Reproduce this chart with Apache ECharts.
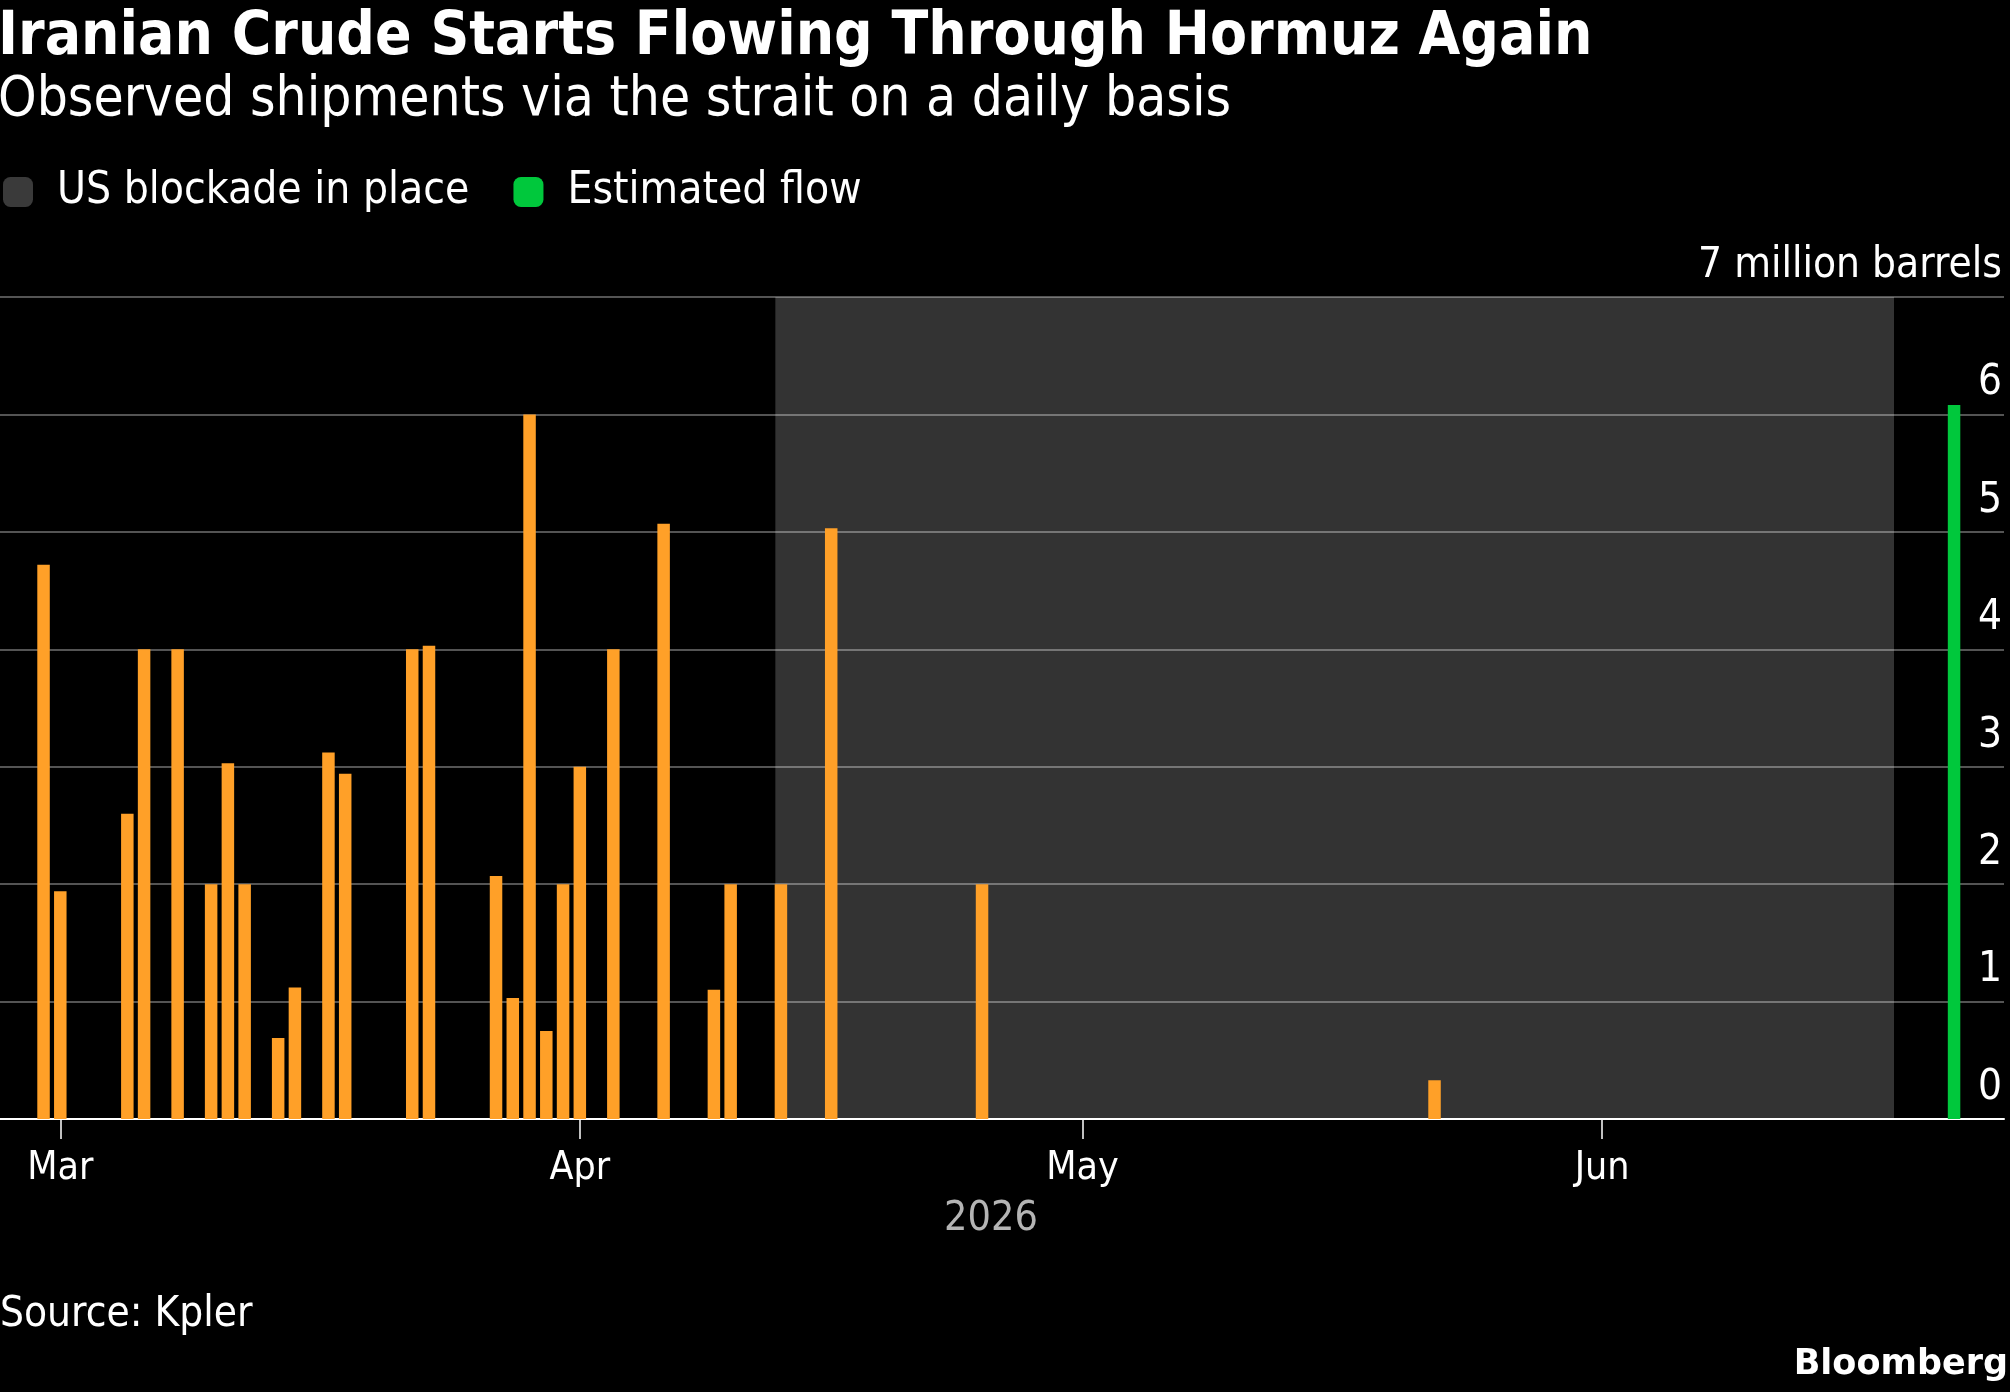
<!DOCTYPE html>
<html>
<head>
<meta charset="utf-8">
<script src="https://cdn.jsdelivr.net/npm/echarts@6/dist/echarts.min.js"></script>
<style>
  html, body { margin: 0; padding: 0; background: #000; }
  #main { width: 2010px; height: 1392px; }
</style>
</head>
<body>
<div id="main"></div>
<script>
// observed daily shipments via the strait (million barrels)
const shipDates = [
  '2026-02-28', '2026-03-01', '2026-03-05', '2026-03-06', '2026-03-08',
  '2026-03-10', '2026-03-11', '2026-03-12', '2026-03-14', '2026-03-15',
  '2026-03-17', '2026-03-18', '2026-03-22', '2026-03-23', '2026-03-27',
  '2026-03-28', '2026-03-29', '2026-03-30', '2026-03-31', '2026-04-01',
  '2026-04-03', '2026-04-06', '2026-04-09', '2026-04-10', '2026-04-13',
  '2026-04-16', '2026-04-25', '2026-05-22'
];
const shipValues = [
  4.72, 1.94, 2.6, 4.0, 4.0,
  2.0, 3.03, 2.0, 0.69, 1.12,
  3.12, 2.94, 4.0, 4.03, 2.07,
  1.03, 6.0, 0.75, 2.0, 3.0,
  4.0, 5.07, 1.1, 2.0, 2.0,
  5.03, 2.0, 0.33
];
// estimated flow
const flowDates = ['2026-06-22'];
const flowValues = [6.08];
// US blockade period
const blockadeStart = '2026-04-12 16:00';
const blockadeEnd = '2026-06-18 10:00';

const monthTicks = ['2026-03-01', '2026-04-01', '2026-05-01', '2026-06-01'];
const monthLabels = ['Mar', 'Apr', 'May', 'Jun'];
const yTicks = [0, 1, 2, 3, 4, 5, 6, 7];

const FONT = "'DejaVu Sans Condensed', 'DejaVu Sans', sans-serif";

function ts(s) {
  const p = s.split(/[- :]/).map(Number);
  return Date.UTC(p[0], p[1] - 1, p[2], p[3] || 0, p[4] || 0);
}

const tickTimes = monthTicks.map(ts);
const dayMs = 86400000;
// x range: plot edge sits ~3.6 days before Mar 1
const xMin = ts('2026-03-01') - 3.598 * dayMs;
const xMax = ts('2026-03-01') + 115.98 * dayMs;

const chartDom = document.getElementById('main');
const myChart = echarts.init(chartDom, null, { renderer: 'canvas' });

const option = {
  backgroundColor: '#000',
  animation: false,
  textStyle: { fontFamily: FONT },
  title: [
    {
      text: 'Iranian Crude Starts Flowing Through Hormuz Again',
      left: -2,
      top: 6,
      padding: 0,
      textStyle: { color: '#fff', fontSize: 60, fontWeight: 'bold', fontFamily: FONT, lineHeight: 64 }
    },
    {
      text: 'Observed shipments via the strait on a daily basis',
      left: -2,
      top: 72,
      padding: 0,
      textStyle: { color: '#fff', fontSize: 54.6, fontWeight: 'normal', fontFamily: FONT, lineHeight: 58 }
    },
    {
      text: 'Source: Kpler',
      left: 0,
      top: 1294,
      padding: 0,
      textStyle: { color: '#fff', fontSize: 42, fontWeight: 'normal', fontFamily: FONT, lineHeight: 42 }
    },
    {
      text: 'Bloomberg',
      right: 2,
      top: 1347,
      padding: 0,
      textStyle: { color: '#fff', fontSize: 35, fontWeight: 'bold', fontFamily: "'DejaVu Sans', sans-serif", lineHeight: 35 }
    }
  ],
  legend: {
    left: 3,
    top: 170,
    padding: 0,
    itemWidth: 30,
    itemHeight: 30,
    itemGap: 44,
    icon: 'roundRect',
    data: ['US blockade in place', 'Estimated flow'],
    textStyle: { color: '#fff', fontSize: 44, fontFamily: FONT, padding: [0, 0, 0, 19] }
  },
  grid: {
    left: 0,
    right: 6,
    top: 297,
    bottom: 273,
    containLabel: false
  },
  xAxis: {
    type: 'value',
    min: xMin,
    max: xMax,
    name: '2026',
    nameLocation: 'middle',
    nameGap: 80,
    nameTextStyle: { color: '#b4b4b4', fontSize: 41, fontFamily: FONT, padding: [0, 22, 0, 0] },
    axisLine: { show: true, lineStyle: { color: '#fff', width: 2 } },
    axisTick: {
      show: true,
      length: 20,
      customValues: tickTimes,
      lineStyle: { color: '#fff', width: 1.5 }
    },
    axisLabel: {
      customValues: tickTimes,
      color: '#fff',
      fontSize: 39,
      fontFamily: FONT,
      margin: 30,
      formatter: function (val) {
        const i = tickTimes.findIndex((t) => Math.abs(t - val) < dayMs / 2);
        return i >= 0 ? monthLabels[i] : '';
      }
    },
    splitLine: { show: false }
  },
  yAxis: {
    type: 'value',
    position: 'right',
    min: 0,
    max: 7,
    interval: 1,
    axisLine: { show: false },
    axisTick: { show: false },
    axisLabel: {
      inside: true,
      color: '#fff',
      fontSize: 42,
      fontFamily: FONT,
      margin: 2,
      verticalAlign: 'bottom',
      padding: [0, 0, 10, 0],
      formatter: function (v) {
        return v === yTicks[yTicks.length - 1] ? v + ' million barrels' : String(v);
      }
    },
    splitLine: { show: true, lineStyle: { color: 'rgba(255,255,255,0.33)', width: 2 } }
  },
  series: [
    {
      name: 'US blockade in place',
      type: 'bar',
      data: [],
      itemStyle: { color: '#3a3a3a' },
      markArea: {
        silent: true,
        itemStyle: { color: 'rgba(255,255,255,0.2)' },
        data: [[
          { xAxis: ts(blockadeStart), yAxis: 0 },
          { xAxis: ts(blockadeEnd), yAxis: 7 }
        ]]
      }
    },
    {
      name: 'Observed shipments',
      type: 'bar',
      barWidth: 12.5,
      barGap: '-100%',
      itemStyle: { color: '#ffa028' },
      data: shipDates.map((d, i) => [ts(d), shipValues[i]])
    },
    {
      name: 'Estimated flow',
      type: 'bar',
      barWidth: 12.5,
      barGap: '-100%',
      itemStyle: { color: '#00c83c' },
      data: flowDates.map((d, i) => [ts(d), flowValues[i]])
    }
  ]
};

myChart.setOption(option);
</script>
</body>
</html>
